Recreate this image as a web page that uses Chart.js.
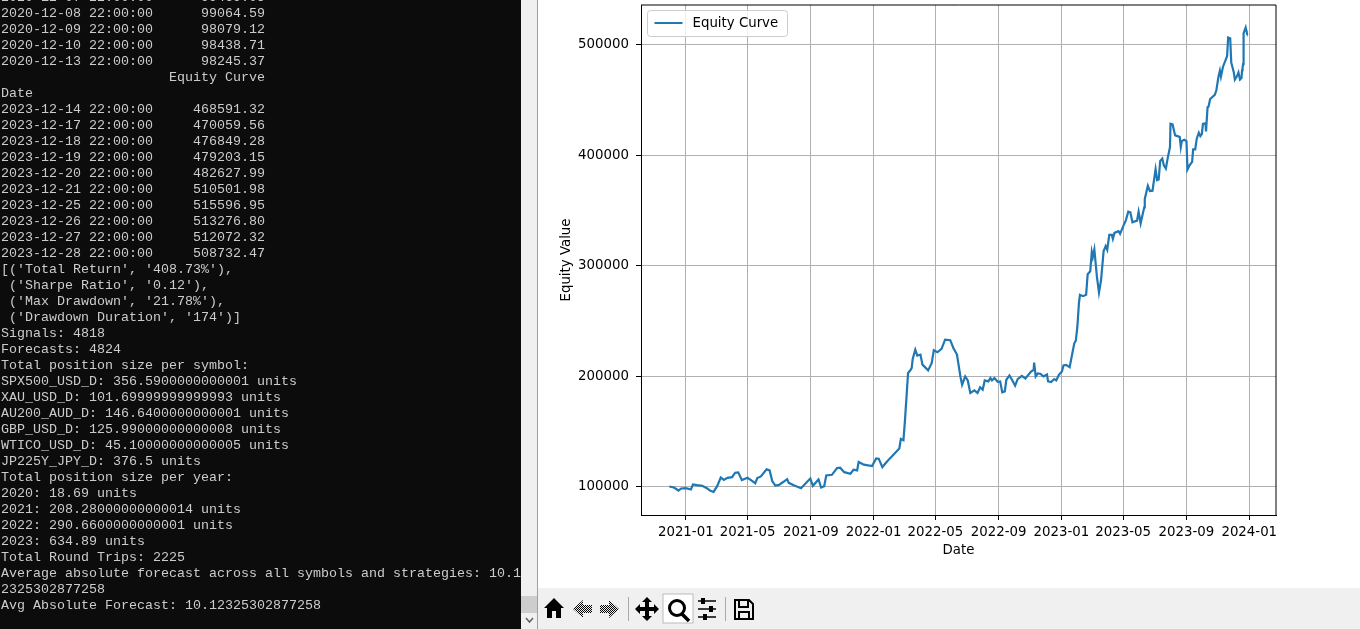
<!DOCTYPE html>
<html>
<head>
<meta charset="utf-8">
<title>Equity Curve</title>
<script src="https://cdn.jsdelivr.net/npm/chart.js@4"></script>
<style>
  html, body { margin: 0; padding: 0; background: #fff; overflow: hidden; }
  #page { position: relative; width: 1360px; height: 629px; overflow: hidden; }
  #terminal { position: absolute; left: 0; top: 0; width: 521px; height: 629px; background: #0c0c0c; overflow: hidden; }
  #terminal pre { position: absolute; left: 1px; top: -10px; margin: 0; color: #cccccc; font: 13.33px/16px "Liberation Mono", monospace; will-change: transform; }
  #scrollbar { position: absolute; left: 521px; top: 0; width: 16px; height: 629px; background: #f0f0f0; border-right: 1px solid #a0a0a0; }
  #thumb { position: absolute; left: 0; top: 596px; width: 16px; height: 17px; background: #cdcdcd; }
  #scrollbar svg { position: absolute; left: 4px; top: 617px; }
  #figure { position: absolute; left: 538px; top: 0; width: 822px; height: 588px; }
  #toolbar { position: absolute; left: 538px; top: 588px; width: 822px; height: 41px; background: #f0f0f0; }
  #toolbar svg { position: absolute; left: 0; top: 0; }
</style>
</head>
<body>
<div id="page">
  <div id="terminal"><pre id="console"></pre></div>
  <div id="scrollbar">
    <div id="thumb"></div>
    <svg width="9" height="7"><path d="M1 1 L4.5 5 L8 1" fill="none" stroke="#606060" stroke-width="1.5"/></svg>
  </div>
  <div id="figure"><canvas id="equity" width="822" height="588"></canvas></div>
  <div id="toolbar">
    <svg width="822" height="41">
      <defs>
        <pattern id="dither" width="2" height="2" patternUnits="userSpaceOnUse">
          <rect width="1" height="1" fill="#000"/><rect x="1" y="1" width="1" height="1" fill="#000"/>
        </pattern>
      </defs>
      <rect x="125" y="6" width="30" height="29" fill="#fff" stroke="#bbb"/>
      <path d="M16 10 L6 20 L9 20 L9 30 L14 30 L14 23 L18 23 L18 30 L23 30 L23 20 L26 20 Z" fill="#000"/>
      <path d="M45 12 L35 21 L45 30 L45 25 L54 25 L54 17 L45 17 Z" fill="url(#dither)"/>
      <path d="M71 12 L81 21 L71 30 L71 25 L62 25 L62 17 L71 17 Z" fill="url(#dither)"/>
      <rect x="90" y="9" width="1" height="24" fill="#aaa"/>
      <path d="M109 9 L114 14 L111 14 L111 19 L116 19 L116 16 L121 21 L116 26 L116 23 L111 23 L111 28 L114 28 L109 33 L104 28 L107 28 L107 23 L102 23 L102 26 L97 21 L102 16 L102 19 L107 19 L107 14 L104 14 Z" fill="#000"/>
      <circle cx="139" cy="20" r="7.5" fill="none" stroke="#000" stroke-width="3"/>
      <path d="M144 26 L151 33" stroke="#000" stroke-width="3.5"/>
      <path d="M160 13 H178 M160 21 H178 M160 29 H178" stroke="#000" stroke-width="1.5"/>
      <path d="M165 10 V16 M173 18 V24 M167 26 V32" stroke="#000" stroke-width="4"/>
      <rect x="187" y="9" width="1" height="24" fill="#aaa"/>
      <path d="M197 12 H211 L215 16 V31 H197 Z M201 12 V19 H210 V12 M201 31 V24 H211 V31" fill="none" stroke="#000" stroke-width="2"/>
    </svg>
  </div>
</div>
<script>
const consoleLines = [
  "2020-12-07 22:00:00      99469.05",
  "2020-12-08 22:00:00      99064.59",
  "2020-12-09 22:00:00      98079.12",
  "2020-12-10 22:00:00      98438.71",
  "2020-12-13 22:00:00      98245.37",
  "                     Equity Curve",
  "Date",
  "2023-12-14 22:00:00     468591.32",
  "2023-12-17 22:00:00     470059.56",
  "2023-12-18 22:00:00     476849.28",
  "2023-12-19 22:00:00     479203.15",
  "2023-12-20 22:00:00     482627.99",
  "2023-12-21 22:00:00     510501.98",
  "2023-12-25 22:00:00     515596.95",
  "2023-12-26 22:00:00     513276.80",
  "2023-12-27 22:00:00     512072.32",
  "2023-12-28 22:00:00     508732.47",
  "[('Total Return', '408.73%'),",
  " ('Sharpe Ratio', '0.12'),",
  " ('Max Drawdown', '21.78%'),",
  " ('Drawdown Duration', '174')]",
  "Signals: 4818",
  "Forecasts: 4824",
  "Total position size per symbol:",
  "SPX500_USD_D: 356.5900000000001 units",
  "XAU_USD_D: 101.69999999999993 units",
  "AU200_AUD_D: 146.6400000000001 units",
  "GBP_USD_D: 125.99000000000008 units",
  "WTICO_USD_D: 45.10000000000005 units",
  "JP225Y_JPY_D: 376.5 units",
  "Total position size per year:",
  "2020: 18.69 units",
  "2021: 208.28000000000014 units",
  "2022: 290.6600000000001 units",
  "2023: 634.89 units",
  "Total Round Trips: 2225",
  "Average absolute forecast across all symbols and strategies: 10.1",
  "2325302877258",
  "Avg Absolute Forecast: 10.12325302877258"
];

const equityDates = [
  "2020-11-30","2020-12-09","2020-12-18","2020-12-23","2021-01-01","2021-01-11","2021-01-15","2021-01-23",
  "2021-02-02","2021-02-11","2021-02-17","2021-02-24","2021-03-03","2021-03-10","2021-03-16","2021-03-23",
  "2021-04-01","2021-04-07","2021-04-13","2021-04-20","2021-05-01","2021-05-07","2021-05-16","2021-05-20",
  "2021-05-27","2021-06-07","2021-06-13","2021-06-18","2021-06-24","2021-07-01","2021-07-10","2021-07-17",
  "2021-07-20","2021-07-31","2021-08-13","2021-08-18","2021-08-31","2021-09-05","2021-09-16","2021-09-21",
  "2021-09-27","2021-10-01","2021-10-12","2021-10-22","2021-10-28","2021-11-05","2021-11-17","2021-11-23",
  "2021-11-30","2021-12-03","2021-12-13","2021-12-29","2022-01-06","2022-01-11","2022-01-18","2022-01-28",
  "2022-02-09","2022-02-20","2022-02-23","2022-02-28","2022-03-03","2022-03-09","2022-03-13","2022-03-16",
  "2022-03-18","2022-03-23","2022-03-27","2022-04-02","2022-04-06","2022-04-17","2022-04-24","2022-04-28",
  "2022-05-05","2022-05-13","2022-05-20","2022-05-30","2022-06-05","2022-06-12","2022-06-19","2022-06-22",
  "2022-06-28","2022-07-03","2022-07-08","2022-07-16","2022-07-22","2022-07-27","2022-08-01","2022-08-05",
  "2022-08-12","2022-08-16","2022-08-19","2022-08-24","2022-08-30","2022-09-04","2022-09-08","2022-09-13",
  "2022-09-16","2022-09-22","2022-09-27","2022-10-03","2022-10-08","2022-10-16","2022-10-23","2022-11-03",
  "2022-11-08","2022-11-09","2022-11-12","2022-11-16","2022-11-21","2022-11-27","2022-12-04","2022-12-06",
  "2022-12-12","2022-12-18","2022-12-22","2022-12-27","2023-01-02","2023-01-05","2023-01-10","2023-01-17",
  "2023-01-21","2023-01-26","2023-01-29","2023-02-01","2023-02-04","2023-02-06","2023-02-12","2023-02-18",
  "2023-02-21","2023-02-26","2023-03-01","2023-03-03","2023-03-06","2023-03-11","2023-03-15","2023-03-19",
  "2023-03-24","2023-03-28","2023-03-31","2023-04-04","2023-04-09","2023-04-11","2023-04-14","2023-04-22",
  "2023-04-25","2023-05-03","2023-05-06","2023-05-11","2023-05-15","2023-05-19","2023-05-28","2023-05-31",
  "2023-06-04","2023-06-08","2023-06-11","2023-06-12","2023-06-18","2023-06-22","2023-06-27","2023-07-03",
  "2023-07-06","2023-07-09","2023-07-12","2023-07-16","2023-07-19","2023-07-23","2023-07-27","2023-07-31",
  "2023-08-01","2023-08-05","2023-08-10","2023-08-16","2023-08-19","2023-08-21","2023-08-23","2023-08-28",
  "2023-09-01","2023-09-03","2023-09-07","2023-09-12","2023-09-14","2023-09-18","2023-09-21","2023-09-25",
  "2023-09-28","2023-10-01","2023-10-03","2023-10-08","2023-10-09","2023-10-12","2023-10-14","2023-10-17",
  "2023-10-26","2023-10-29","2023-11-02","2023-11-05","2023-11-07","2023-11-11","2023-11-16","2023-11-19",
  "2023-11-21","2023-11-25","2023-11-27","2023-12-02","2023-12-04","2023-12-07","2023-12-11","2023-12-14",
  "2023-12-17","2023-12-18","2023-12-19","2023-12-20","2023-12-21","2023-12-25","2023-12-26","2023-12-27",
  "2023-12-28"
];

const equityValues = [
  100000,99065,96350,98200,98500,97300,101800,101200,
  100600,98500,96300,95100,100300,108200,106000,107900,
  108500,112500,112800,105800,107900,106000,103000,107600,
  109100,115500,114600,104900,100900,101500,104300,106700,
  103300,100900,98500,100900,107300,100600,106400,99100,
  100300,110000,110600,116700,117000,113000,111600,115200,
  114600,122200,119800,118500,125500,125200,117600,123100,
  128900,134400,143200,142000,160200,202800,205000,207300,
  215500,224000,218600,219500,210400,205200,211900,223400,
  221600,224600,233000,232500,225500,219500,198800,192200,
  199700,196100,184700,187100,184700,189800,187700,196100,
  195200,198200,196100,198200,194900,195200,185300,186200,
  196700,200600,196700,191300,197300,200300,197900,204200,
  205700,212300,199700,202400,202100,199700,201500,195200,
  194600,197300,196100,201200,204200,209600,210200,208100,
  217700,229700,232100,244700,265800,273600,272400,273600,
  292200,294900,312300,307800,314700,289800,275700,286800,
  313200,317700,314400,327900,327900,324300,329700,331200,
  328800,337800,340800,348900,348300,339300,340800,348900,
  338400,346800,352900,360400,372400,367600,367900,387400,
  377500,378100,394900,397000,391000,388000,398500,407500,
  428500,427900,418000,417100,416500,407500,412900,414100,
  412900,387100,391000,394000,405400,405400,415000,420400,
  417400,419500,428500,429100,421600,443500,444100,451000,
  454700,458600,470600,476600,471200,480200,486200,490000,
  506600,506000,484100,475000,468500,470600,475000,468591,
  470060,476849,479203,482628,510502,515597,513277,512072,
  508732
];

const xTickDates = ["2021-01-01","2021-05-01","2021-09-01","2022-01-01","2022-05-01","2022-09-01","2023-01-01","2023-05-01","2023-09-01","2024-01-01"];
const xTickLabels = ["2021-01","2021-05","2021-09","2022-01","2022-05","2022-09","2023-01","2023-05","2023-09","2024-01"];
const yTickValues = [100000, 200000, 300000, 400000, 500000];

// no date adapter in the sandbox, so x is plain day numbers
function dayNumber(s) {
  return Date.parse(s + "T00:00:00Z") / 86400000;
}

document.getElementById("console").textContent = consoleLines.join("\n");

const fontFamily = '"DejaVu Sans", sans-serif';
const tickFont = { family: fontFamily, size: 13.33 };

// legend sits inside the axes, with a rounded frame like matplotlib
const insideLegend = {
  id: "insideLegend",
  afterDraw(chart) {
    const ctx = chart.ctx;
    const area = chart.chartArea;
    const ds = chart.data.datasets[0];
    const x = area.left + 6.5, y = area.top + 5.5;
    ctx.save();
    ctx.beginPath();
    ctx.roundRect(x, y, 140, 26, 3);
    ctx.fillStyle = "rgba(255,255,255,0.8)";
    ctx.fill();
    ctx.strokeStyle = "#cccccc";
    ctx.lineWidth = 1;
    ctx.stroke();
    ctx.beginPath();
    ctx.moveTo(x + 7, y + 12.5);
    ctx.lineTo(x + 35, y + 12.5);
    ctx.strokeStyle = ds.borderColor;
    ctx.lineWidth = 2;
    ctx.stroke();
    ctx.fillStyle = "#000";
    ctx.font = "13.33px " + fontFamily;
    ctx.textBaseline = "middle";
    ctx.fillText(ds.label, x + 45, y + 13);
    ctx.restore();
  }
};

new Chart(document.getElementById("equity"), {
  type: "line",
  data: {
    datasets: [{
      label: "Equity Curve",
      data: equityDates.map((d, i) => ({ x: dayNumber(d), y: equityValues[i] })),
      borderColor: "#1f77b4",
      borderWidth: 2.2,
      pointRadius: 0,
      tension: 0
    }]
  },
  options: {
    responsive: false,
    animation: false,
    layout: { autoPadding: false, padding: { left: 0, top: 5, right: 84, bottom: 0 } },
    plugins: { legend: { display: false }, tooltip: { enabled: false } },
    scales: {
      x: {
        type: "linear",
        min: dayNumber("2020-10-06"),
        max: dayNumber("2024-02-22"),
        afterBuildTicks(axis) { axis.ticks = xTickDates.map(d => ({ value: dayNumber(d) })); },
        afterFit(axis) { axis.height = 73; axis.paddingLeft = 0; axis.paddingRight = 0; },
        ticks: {
          autoSkip: false,
          maxRotation: 0,
          color: "#000",
          padding: 5,
          font: tickFont,
          callback: v => xTickLabels[xTickDates.findIndex(d => dayNumber(d) === v)]
        },
        grid: { color: "#b0b0b0", tickColor: "#000", tickLength: 5 },
        border: { color: "#000", width: 1 },
        title: { display: true, text: "Date", color: "#000", font: tickFont, padding: { top: 5, bottom: 29 } }
      },
      y: {
        type: "linear",
        min: 74200,
        max: 536100,
        afterBuildTicks(axis) { axis.ticks = yTickValues.map(v => ({ value: v })); },
        afterFit(axis) { axis.width = 103; axis.paddingTop = 0; axis.paddingBottom = 0; },
        ticks: { color: "#000", padding: 7, font: tickFont, callback: v => String(v) },
        grid: { color: "#b0b0b0", tickColor: "#000", tickLength: 5 },
        border: { color: "#000", width: 1 },
        title: { display: true, text: "Equity Value", color: "#000", font: tickFont, padding: { top: 21, bottom: 0 } }
      }
    }
  },
  plugins: [insideLegend, {
    id: "topRightBorder",
    afterDraw(chart) {
      const a = chart.chartArea, ctx = chart.ctx;
      ctx.save();
      ctx.strokeStyle = "#000";
      ctx.lineWidth = 1;
      ctx.beginPath();
      ctx.moveTo(a.left, a.top);
      ctx.lineTo(a.right, a.top);
      ctx.lineTo(a.right, a.bottom);
      ctx.stroke();
      ctx.restore();
    }
  }]
});
</script>
</body>
</html>
